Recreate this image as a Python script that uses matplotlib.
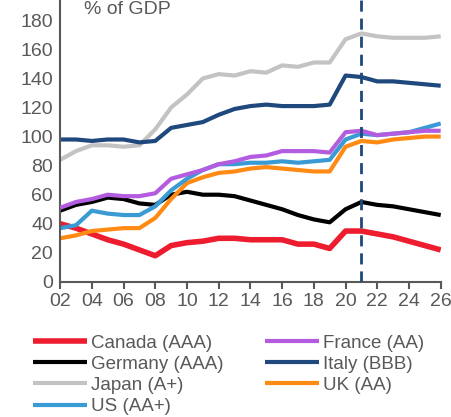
import numpy as np
import matplotlib
matplotlib.use("Agg")
import matplotlib.pyplot as plt

plt.rcParams['font.family'] = ['Liberation Sans', 'DejaVu Sans']

years = np.arange(2002, 2027)
tick_years = np.arange(2002, 2027, 2)
tick_labels = ["%02d" % (y % 100) for y in tick_years]

canada = [40, 37, 33, 29, 26, 22, 18, 25, 27, 28, 30, 30, 29, 29, 29, 26, 26, 23, 35, 35, 33, 31, 28, 25, 22]
france = [51, 55, 57, 60, 59, 59, 61, 71, 74, 77, 81, 83, 86, 87, 90, 90, 90, 89, 103, 104, 101, 102, 103, 104, 104]
germany = [49, 53, 55, 58, 57, 54, 53, 60, 62, 60, 60, 59, 56, 53, 50, 46, 43, 41, 50, 55, 53, 52, 50, 48, 46]
italy = [98, 98, 97, 98, 98, 96, 97, 106, 108, 110, 115, 119, 121, 122, 121, 121, 121, 122, 142, 141, 138, 138, 137, 136, 135]
japan = [84, 90, 94, 94, 93, 94, 105, 120, 129, 140, 143, 142, 145, 144, 149, 148, 151, 151, 167, 171, 169, 168, 168, 168, 169]
uk = [30, 32, 35, 36, 37, 37, 44, 57, 68, 72, 75, 76, 78, 79, 78, 77, 76, 76, 93, 97, 96, 98, 99, 100, 100]
us = [37, 39, 49, 47, 46, 46, 52, 63, 71, 77, 81, 81, 82, 82, 83, 82, 83, 84, 98, 102, 101, 102, 103, 106, 109]

series = [
    ("Canada (AAA)", canada, "#ED1C2E"),
    ("France (AA)", france, "#B35CE0"),
    ("Germany (AAA)", germany, "#000000"),
    ("Italy (BBB)", italy, "#1F497D"),
    ("Japan (A+)", japan, "#C3C3C3"),
    ("UK (AA)", uk, "#FF8A14"),
    ("US (AA+)", us, "#3A9AD4"),
]
draw_order = ["Japan (A+)", "Italy (BBB)", "Germany (AAA)", "Canada (AAA)", "UK (AA)", "US (AA+)", "France (AA)"]
forecast_year = 2021

fig = plt.figure(figsize=(4.52, 4.17), dpi=100)
ax = fig.add_axes([0.133, 0.324, 0.842, 0.676])

handles = {}
for name, vals, col in series:
    lw = 4 if name == "Canada (AAA)" else 3
    ln, = ax.plot(years, vals, color=col, lw=lw, solid_capstyle='butt',
                  zorder=2 + draw_order.index(name) * 0.1)
    handles[name] = ln

ax.axvline(forecast_year, color="#1F497D", lw=2, ls=(0, (4, 2.5)), zorder=5)

ax.set_xlim(2002, 2026)
ax.set_ylim(0, 194)
ax.set_yticks(np.arange(0, 181, 20))
ax.set_xticks(tick_years)
ax.set_xticklabels(tick_labels)

for s in ["top", "right"]:
    ax.spines[s].set_visible(False)
for s in ["left", "bottom"]:
    ax.spines[s].set_color("#595959")
    ax.spines[s].set_linewidth(1.5)
ax.tick_params(axis='both', colors="#595959", labelsize=14, width=1.5)
ax.tick_params(axis='y', length=0, pad=5)
ax.tick_params(axis='x', length=5, direction='out', pad=3)

fig.text(0.185, 1 - 14 / 417, "% of GDP", color="#595959", fontsize=14, va='baseline')

# legend fills column by column
order = ["Canada (AAA)", "Germany (AAA)", "Japan (A+)", "US (AA+)",
         "France (AA)", "Italy (BBB)", "UK (AA)"]
leg = fig.legend([handles[n] for n in order], order, ncol=2,
                 loc='upper left', bbox_to_anchor=(0.073, 0.198),
                 frameon=False, fontsize=13.5, handlelength=2.9,
                 handletextpad=0.2, columnspacing=2.2, labelspacing=0.22,
                 borderaxespad=0, borderpad=0)
for t in leg.get_texts():
    t.set_color("#595959")

fig.savefig("out.png", dpi=100)
